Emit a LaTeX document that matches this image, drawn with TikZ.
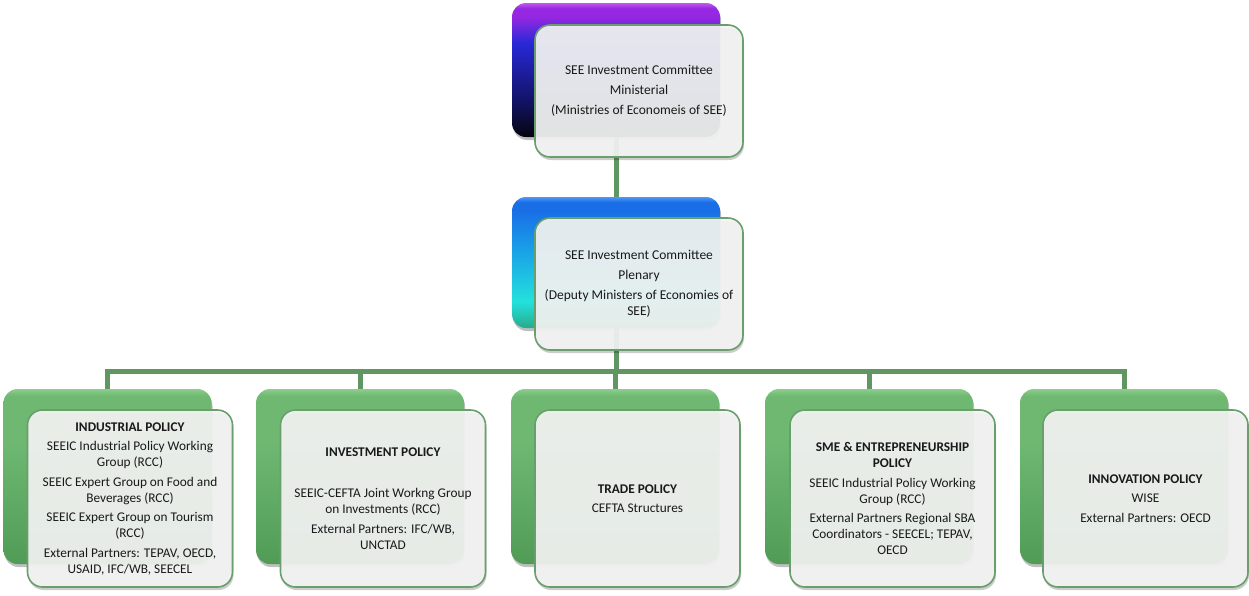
\documentclass[tikz,border=0pt]{standalone}
\usepackage{fontspec}
\setmainfont{Carlito}
\usetikzlibrary{shadows}
\definecolor{linegreen}{RGB}{96,150,98}
\definecolor{frontfill}{RGB}{243,244,243}
\definecolor{frontborder}{RGB}{106,158,108}
\definecolor{gtop}{RGB}{140,205,140}
\definecolor{gmid}{RGB}{110,184,114}
\definecolor{gbot}{RGB}{80,156,86}
\definecolor{vtop}{RGB}{190,90,240}
\definecolor{vvio}{RGB}{150,40,225}
\definecolor{vblue}{RGB}{40,40,215}
\definecolor{vnavy}{RGB}{20,20,110}
\definecolor{vblack}{RGB}{5,5,15}
\definecolor{btop}{RGB}{80,150,245}
\definecolor{bblue}{RGB}{25,110,230}
\definecolor{bsky}{RGB}{25,160,232}
\definecolor{bcyan}{RGB}{35,225,220}
\definecolor{bteal}{RGB}{40,170,140}
\pgfdeclareverticalshading{greenshade}{100bp}{color(0bp)=(gbot); color(25bp)=(gbot); color(60bp)=(gmid); color(73bp)=(gmid); color(75bp)=(gtop); color(100bp)=(gtop)}
\pgfdeclareverticalshading{purpshade}{100bp}{color(0bp)=(vblack); color(25bp)=(vblack); color(40bp)=(vnavy); color(60bp)=(vblue); color(70bp)=(vvio); color(73bp)=(vvio); color(75bp)=(vtop); color(100bp)=(vtop)}
\pgfdeclareverticalshading{blueshade}{100bp}{color(0bp)=(bteal); color(25bp)=(bteal); color(35bp)=(bcyan); color(55bp)=(bsky); color(70bp)=(bblue); color(73bp)=(bblue); color(75bp)=(btop); color(100bp)=(btop)}
\tikzset{
  backbox/.style={shade, rounded corners=14pt, draw=none, minimum width=208pt, inner sep=0pt,
    drop shadow={shadow xshift=1pt, shadow yshift=-3pt, opacity=0.25, fill=black}},
  frontbox/.style={rounded corners=15pt, draw=frontborder, line width=1.6pt, fill=frontfill,
    fill opacity=0.93, text opacity=1, align=center, inner sep=2pt, text=black!90,
    drop shadow={shadow xshift=1pt, shadow yshift=-3pt, opacity=0.2, fill=black}},
  topfont/.style={font=\fontsize{13.5}{16}\selectfont},
  botfont/.style={font=\fontsize{13.3}{16}\selectfont},
  connector/.style={draw=linegreen, line width=5pt}
}
\begin{document}
\begin{tikzpicture}[x=1pt, y=-1pt]
\useasboundingbox (0,0) rectangle (1249,595);
% back boxes
\node[backbox, shading=purpshade, minimum height=134pt] (minb) at (616,70) {};
\node[backbox, shading=blueshade, minimum height=131pt] (plenb) at (616,262.5) {};
\node[backbox, shading=greenshade, minimum height=175pt] (p1b) at (107.5,476.5) {};
\node[backbox, shading=greenshade, minimum height=175pt] (p2b) at (360,476.5) {};
\node[backbox, shading=greenshade, minimum height=175pt] (p3b) at (615,476.5) {};
\node[backbox, shading=greenshade, minimum height=175pt] (p4b) at (869,476.5) {};
\node[backbox, shading=greenshade, minimum height=175pt] (p5b) at (1124,476.5) {};
% connectors
\coordinate (bus) at (616,371);
\draw[connector] (minb.south) -- (plenb.north);
\draw[connector] (plenb.south) -- (bus);
\draw[connector] (p1b.north) |- (bus) -| (p5b.north);
\draw[connector] (p2b.north) -- (p2b.north |- bus);
\draw[connector] (p3b.north) -- (p3b.north |- bus);
\draw[connector] (p4b.north) -- (p4b.north |- bus);
% front boxes
\node[frontbox, topfont, minimum width=208pt, minimum height=132pt] (min) at (639,91)
  {SEE Investment Committee\\[4pt] Ministerial\\[4pt] (Ministries of Economeis of SEE)};
\node[frontbox, topfont, minimum width=208pt, minimum height=132pt] (plen) at (639,284)
  {SEE Investment Committee\\[4pt] Plenary\\[4pt] (Deputy Ministers of Economies of\\ SEE)};
\node[frontbox, botfont, minimum width=205pt, minimum height=177pt] (p1) at (130,498.5)
  {\textbf{INDUSTRIAL POLICY}\\[3.5pt]
   SEEIC Industrial Policy Working\\ Group (RCC)\\[3.5pt]
   SEEIC Expert Group on Food and\\ Beverages (RCC)\\[3.5pt]
   SEEIC Expert Group on Tourism\\ (RCC)\\[3.5pt]
   External Partners: TEPAV, OECD,\\ USAID, IFC/WB, SEECEL};
\node[frontbox, botfont, minimum width=205pt, minimum height=177pt] (p2) at (383,498.5)
  {\textbf{INVESTMENT POLICY}\\[25pt]
   SEEIC-CEFTA Joint Workng Group\\ on Investments (RCC)\\[3.5pt]
   External Partners: IFC/WB,\\ UNCTAD};
\node[frontbox, botfont, minimum width=205pt, minimum height=177pt] (p3) at (637.5,498.5)
  {\textbf{TRADE POLICY}\\[3.5pt] CEFTA Structures};
\node[frontbox, botfont, minimum width=205pt, minimum height=177pt] (p4) at (892.5,498.5)
  {\textbf{SME \& ENTREPRENEURSHIP}\\ \textbf{POLICY}\\[3.5pt]
   SEEIC Industrial Policy Working\\ Group (RCC)\\[3.5pt]
   External Partners Regional SBA\\ Coordinators - SEECEL; TEPAV,\\ OECD};
\node[frontbox, botfont, minimum width=205pt, minimum height=177pt] (p5) at (1145.5,498.5)
  {\textbf{INNOVATION POLICY}\\[3.5pt] WISE\\[3.5pt] External Partners: OECD};
\end{tikzpicture}
\end{document}
